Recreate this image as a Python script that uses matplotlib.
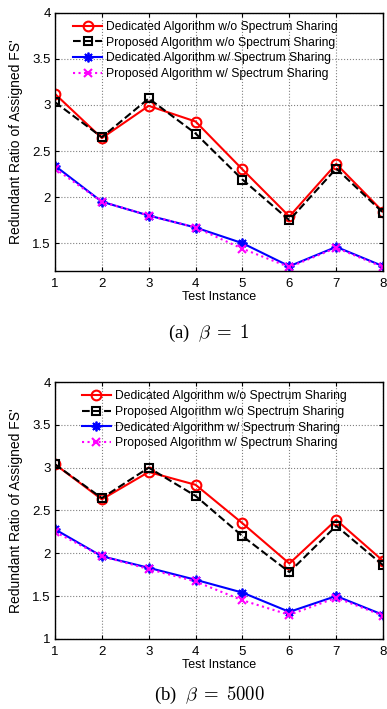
import numpy as np
import matplotlib
matplotlib.use('Agg')
import matplotlib.pyplot as plt

plt.rcParams['font.family'] = ['Liberation Sans', 'DejaVu Sans']
plt.rcParams['mathtext.fontset'] = 'cm'

# data
instances = [1, 2, 3, 4, 5, 6, 7, 8]
labels = ['Dedicated Algorithm w/o Spectrum Sharing',
          'Proposed Algorithm w/o Spectrum Sharing',
          'Dedicated Algorithm w/ Spectrum Sharing',
          'Proposed Algorithm w/ Spectrum Sharing']

# beta = 1
ded_wo_b1 = [3.12, 2.64, 2.99, 2.82, 2.30, 1.79, 2.36, 1.84]
prop_wo_b1 = [3.03, 2.65, 3.07, 2.69, 2.19, 1.75, 2.31, 1.83]
ded_w_b1 = [2.34, 1.95, 1.80, 1.67, 1.50, 1.25, 1.46, 1.25]
prop_w_b1 = [2.31, 1.95, 1.80, 1.67, 1.44, 1.24, 1.45, 1.24]

# beta = 5000
ded_wo_b5000 = [3.04, 2.63, 2.95, 2.80, 2.35, 1.88, 2.39, 1.91]
prop_wo_b5000 = [3.04, 2.645, 3.00, 2.67, 2.20, 1.78, 2.32, 1.86]
ded_w_b5000 = [2.28, 1.965, 1.83, 1.69, 1.54, 1.315, 1.50, 1.28]
prop_w_b5000 = [2.25, 1.965, 1.815, 1.67, 1.45, 1.28, 1.48, 1.27]

styles = [dict(color='red', linestyle='-', marker='o', mfc='none', ms=7, mew=1.5, lw=1.5),
          dict(color='black', linestyle='--', marker='s', mfc='none', ms=6, mew=1.5, lw=1.5),
          dict(color='blue', linestyle='-', marker=(8, 2, 0), ms=7, mew=1.3, lw=1.5),
          dict(color='magenta', linestyle=':', marker='x', ms=6, mew=1.5, lw=1.5)]


def draw(ax, series, ymin, yticks, leg_x):
    for ys, st, lab in zip(series, styles, labels):
        ax.plot(instances, ys, label=lab, **st)
    ax.set_xlim(1, 8)
    ax.set_ylim(ymin, 4)
    ax.set_xticks(instances)
    ax.set_yticks(yticks)
    ax.set_yticklabels([('%g' % t) for t in yticks])
    ax.grid(True, linestyle=':', color='gray', lw=0.8)
    ax.tick_params(direction='in', labelsize=9.5, length=3, top=True, right=True)
    ax.tick_params(axis='x', pad=5)
    ax.tick_params(axis='y', pad=3)
    for sp in ax.spines.values():
        sp.set_linewidth(1.0)
    ax.set_xlabel('Test Instance', fontsize=9, labelpad=1)
    ax.set_ylabel("Redundant Ratio of Assigned FS'", fontsize=10, labelpad=7)
    ax.legend(loc='upper left', bbox_to_anchor=(leg_x, 0.968), frameon=False,
              fontsize=8.7, handlelength=2.4, handletextpad=0.35, numpoints=1,
              labelspacing=0.3, borderaxespad=0.0, borderpad=0.0)


fig = plt.figure(figsize=(3.87, 7.09), dpi=100)
ax1 = fig.add_axes([0.142, 0.618, 0.848, 0.364])
ax2 = fig.add_axes([0.142, 0.099, 0.848, 0.362])

draw(ax1, [ded_wo_b1, prop_wo_b1, ded_w_b1, prop_w_b1], 1.2,
     [1.5, 2, 2.5, 3, 3.5, 4], 0.055)
draw(ax2, [ded_wo_b5000, prop_wo_b5000, ded_w_b5000, prop_w_b5000], 1.0,
     [1, 1.5, 2, 2.5, 3, 3.5, 4], 0.082)

fig.text(209 / 387, 1 - 333 / 709, r'(a)  $\beta\;=\;1$', ha='center', va='center',
         fontsize=13.5, family='Liberation Serif')
fig.text(209 / 387, 1 - 695 / 709, r'(b)  $\beta\;=\;5000$', ha='center', va='center',
         fontsize=13.5, family='Liberation Serif')

fig.savefig('out.png', dpi=100)
